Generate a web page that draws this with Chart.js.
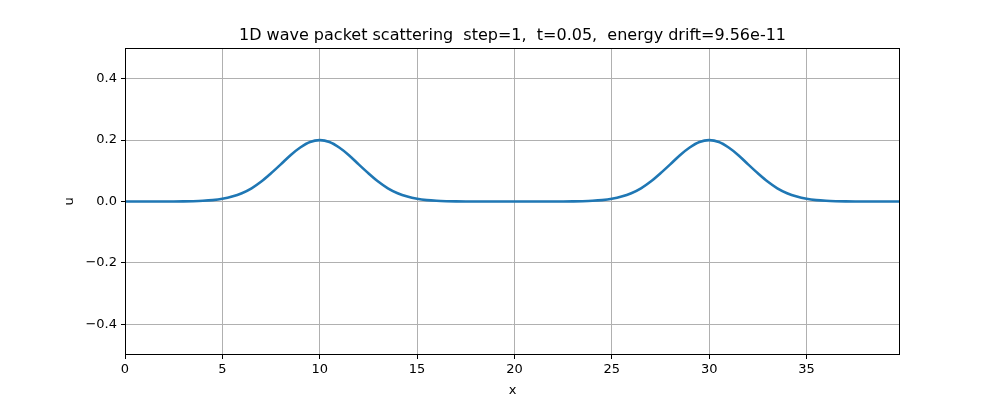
<!DOCTYPE html>
<html lang="en">
<head>
<meta charset="UTF-8">
<title>1D wave packet scattering</title>
<script src="https://cdn.jsdelivr.net/npm/chart.js"></script>
<style>
  body { margin: 0; background: #fff; }
</style>
</head>
<body>
<canvas id="waveChart" width="1000" height="400"></canvas>
<script>
// x sample positions and u values (two packets at x=10 and x=30)
const xValues = [];
for (let i = 0; i < 80; i++) xValues.push(i * 0.5);
xValues.push(39.8);

const packetShape = [0, 0.0001, 0.0004, 0.001, 0.0022, 0.0045, 0.0088, 0.016, 0.027, 0.043,
  0.065, 0.092, 0.121, 0.151, 0.176, 0.194, 0.2, 0.194, 0.176, 0.151, 0.121, 0.092, 0.065,
  0.043, 0.027, 0.016, 0.0088, 0.0045, 0.0022, 0.001, 0.0004, 0.0001, 0];
// 0..1.5 flat, packet 2.0..18.0, flat, packet 22.0..38.0, flat to 39.8
const uValues = [
  0, 0, 0, 0,
  ...packetShape,
  0, 0, 0, 0, 0, 0, 0,
  ...packetShape,
  0, 0, 0, 0, 0
];

const xTicks = [0, 5, 10, 15, 20, 25, 30, 35];
const yTicks = [-0.4, -0.2, 0.0, 0.2, 0.4];
const titleText = '1D wave packet scattering  step=1,  t=0.05,  energy drift=9.56e-11';

const points = xValues.map((x, i) => ({ x: x, y: uValues[i] }));
const font = { family: 'DejaVu Sans', size: 13 };
const fmt = v => (v < 0 ? '\u2212' : '') + Math.abs(v).toFixed(1);

const labelsPlugin = {
  id: 'labels',
  afterDraw(chart) {
    const c = chart.ctx, a = chart.chartArea;
    c.save();
    c.fillStyle = '#000';
    c.strokeStyle = '#000';
    c.lineWidth = 1;
    c.strokeRect(Math.round(a.left) + 0.5, Math.round(a.top) + 0.5,
      Math.round(a.right - a.left) - 1, Math.round(a.bottom - a.top) - 1);
    c.textAlign = 'center';
    c.textBaseline = 'alphabetic';
    c.font = '16px "DejaVu Sans"';
    c.fillText(titleText, (a.left + a.right) / 2, 40);
    c.font = '13px "DejaVu Sans"';
    c.fillText('x', (a.left + a.right) / 2, 394);
    c.translate(73, (a.top + a.bottom) / 2);
    c.rotate(-Math.PI / 2);
    c.fillText('u', 0, 0);
    c.restore();
  }
};

new Chart(document.getElementById('waveChart'), {
  type: 'line',
  data: {
    datasets: [{
      data: points,
      borderColor: '#1f77b4',
      borderWidth: 2.6,
      pointRadius: 0,
      cubicInterpolationMode: 'monotone'
    }]
  },
  options: {
    responsive: false,
    animation: false,
    layout: { padding: { left: 0, right: 100, top: 48, bottom: 0 } },
    plugins: { legend: { display: false }, tooltip: { enabled: false } },
    scales: {
      x: {
        type: 'linear', min: 0, max: 39.8,
        afterBuildTicks: s => { s.ticks = xTicks.map(v => ({ value: v })); },
        afterFit: s => { s.height = 45; },
        border: { display: false },
        grid: { color: '#b0b0b0', tickColor: '#000', tickLength: 4 },
        ticks: { color: '#000', font: font, maxRotation: 0, padding: 3, callback: v => String(v) }
      },
      y: {
        min: -0.5, max: 0.5,
        afterBuildTicks: s => { s.ticks = yTicks.map(v => ({ value: v })); },
        afterFit: s => { s.width = 125; },
        border: { display: false },
        grid: { color: '#b0b0b0', tickColor: '#000', tickLength: 4 },
        ticks: { color: '#000', font: font, padding: 4, callback: fmt }
      }
    }
  },
  plugins: [labelsPlugin]
});
</script>
</body>
</html>
